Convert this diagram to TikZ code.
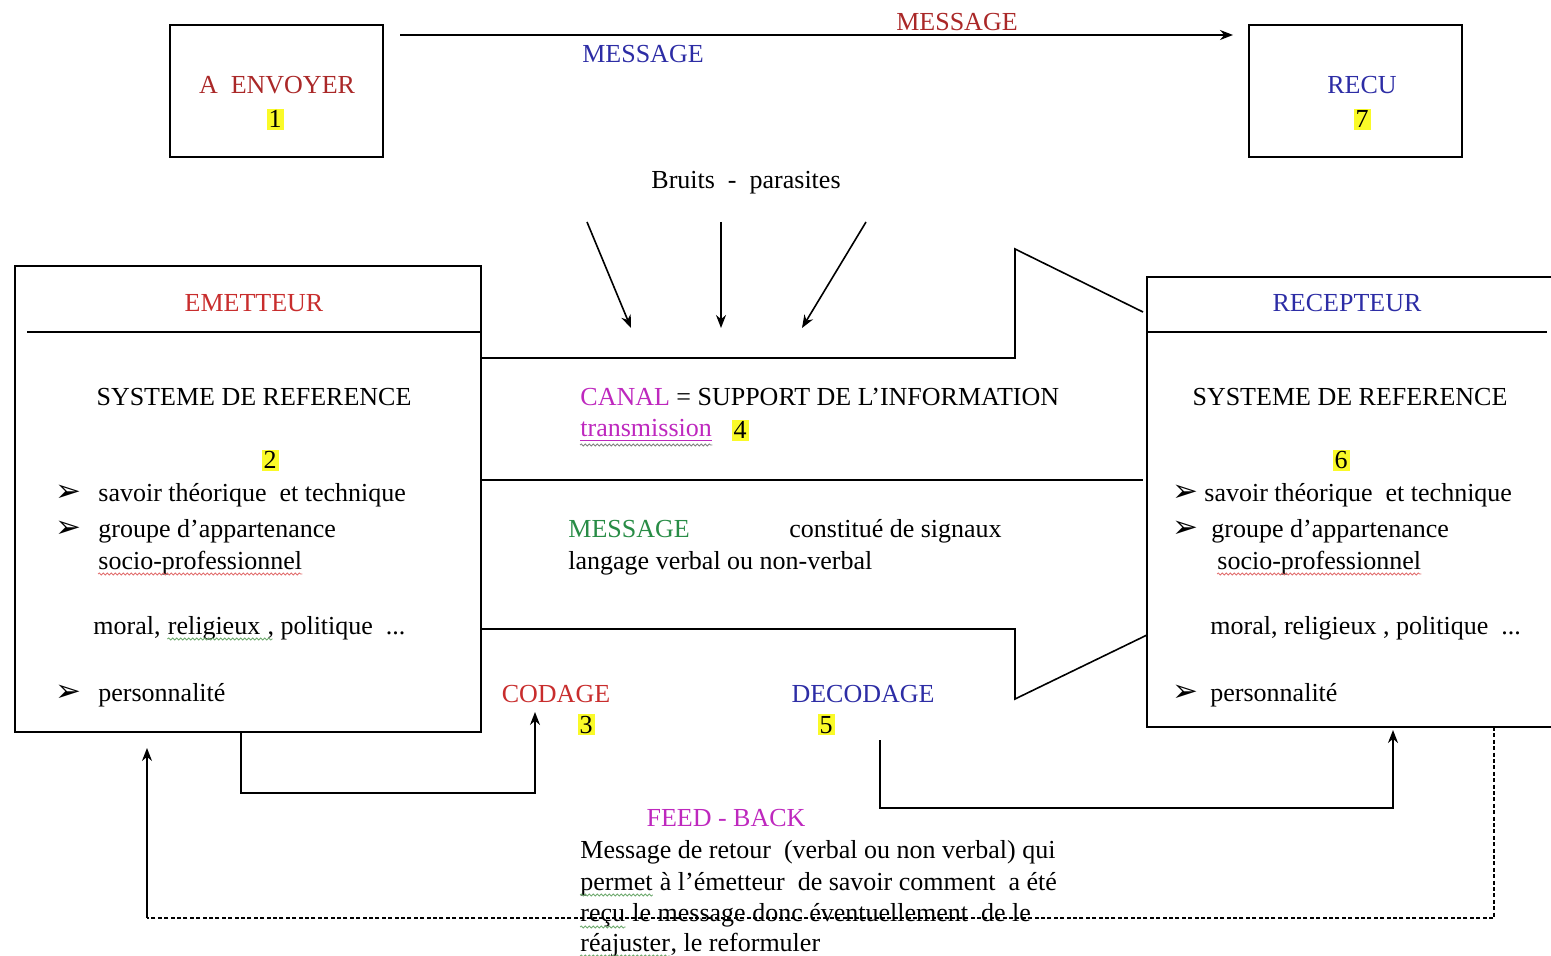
\documentclass[tikz,border=0pt]{standalone}
\usepackage{fontspec}
\setmainfont{Liberation Serif}
\newfontfamily\dingfont{DejaVu Sans}
\usetikzlibrary{arrows.meta,decorations.pathmorphing}
\definecolor{cred}{RGB}{200,45,45}
\definecolor{cdred}{RGB}{170,40,40}
\definecolor{cblue}{RGB}{45,45,165}
\definecolor{cmag}{RGB}{190,40,190}
\definecolor{cgreen}{RGB}{40,140,70}
\definecolor{hl}{RGB}{250,250,40}
\definecolor{wred}{RGB}{225,110,110}
\definecolor{wgreen}{RGB}{110,170,110}
\begin{document}
\begin{tikzpicture}[x=0.5pt,y=-0.5pt,
  font=\fontsize{13}{15}\selectfont,
  txt/.style={inner sep=0pt, anchor=base},
  lt/.style={inner sep=0pt, anchor=base west},
  num/.style={fill=hl, inner sep=1pt, anchor=base},
  frame/.style={draw, line width=1pt, inner sep=0pt},
  ln/.style={line width=0.8pt},
  arr/.style={line width=0.8pt, -{Stealth[length=6.5pt,width=5pt]}},
  fb/.style={line width=0.8pt, dash pattern=on 2pt off 1.2pt},
  bul/.style={inner sep=0pt, anchor=base, font=\dingfont\fontsize{15.5}{17}\selectfont},
  wavy/.style={decorate, decoration={snake, amplitude=0.5pt, segment length=2pt}, line width=0.4pt}]
\useasboundingbox (0,0) rectangle (1551,956);

% top boxes
\node[frame, minimum width=106.5pt, minimum height=66pt] (env) at (276.5,91) {};
\node[txt, text=cdred] (envt) at (277,94) {A\enspace ENVOYER};
\node[num] (n1) at (275,128) {1};
\node[frame, minimum width=106.5pt, minimum height=66pt] (recu) at (1355.5,91) {};
\node[txt, text=cblue] (recut) at (1362,94) {RECU};
\node[num] (n7) at (1362,128) {7};

\coordinate (ms) at (400,35);
\coordinate (me) at (1233,35);
\draw[arr] (ms) -- (me);
\node[txt, text=cdred] (msg1) at (957,31) {MESSAGE};
\node[txt, text=cblue] (msg2) at (643,63) {MESSAGE};

% noise
\node[txt] (bruits) at (746,189) {Bruits\enspace -\enspace parasites};
\coordinate (b1s) at (587,222); \coordinate (b1e) at (631,328);
\coordinate (b2s) at (721,222); \coordinate (b2e) at (721,328);
\coordinate (b3s) at (866,222); \coordinate (b3e) at (802,328);
\draw[arr] (b1s) -- (b1e);
\draw[arr] (b2s) -- (b2e);
\draw[arr] (b3s) -- (b3e);

% emetteur
\node[frame, minimum width=233pt, minimum height=233pt] (em) at (248,499) {};
\draw[line width=1pt] (27,332) -- (481,332);
\node[txt, text=cred] (emt) at (254,312) {EMETTEUR};
\node[txt] (emsys) at (254,406) {SYSTEME DE REFERENCE};
\node[num] (n2) at (270,469) {2};
\node[bul] (eb1) at (68,502) {➢};
\node[lt] (e1) at (98,502) {savoir théorique\enspace et technique};
\node[bul] (eb2) at (68,538) {➢};
\node[lt] (e2) at (98,538) {groupe d’appartenance};
\node[lt] (e3) at (98,569) {socio-professionnel};
\draw[wavy, wred] ([yshift=-2.5pt]e3.base west) -- ([yshift=-2.5pt]e3.base east);
\node[lt] (e4a) at (93,634) {moral,\kern0.25em};
\node[lt] (e4b) at (e4a.base east) {religieux};
\node[lt] (e4c) at (e4b.base east) {\ , politique\enspace ...};
\draw[wavy, wgreen] ([yshift=-2.5pt]e4b.base west) -- ([yshift=-2.5pt,xshift=6pt]e4b.base east);
\node[bul] (eb3) at (68,701) {➢};
\node[lt] (e5) at (98,701) {personnalité};

% recepteur
\coordinate (r1) at (1551,277); \coordinate (r2) at (1147,277);
\coordinate (r3) at (1147,727); \coordinate (r4) at (1551,727);
\draw[line width=1pt] (r1) -- (r2) -- (r3) -- (r4);
\draw[line width=1pt] (1147,332) -- (1547,332);
\node[txt, text=cblue] (rect) at (1347,312) {RECEPTEUR};
\node[txt] (resys) at (1350,406) {SYSTEME DE REFERENCE};
\node[num] (n6) at (1341,469) {6};
\node[bul] (rb1) at (1185,502) {➢};
\node[lt] (r5) at (1204,502) {savoir théorique\enspace et technique};
\node[bul] (rb2) at (1185,538) {➢};
\node[lt] (r6) at (1211,538) {groupe d’appartenance};
\node[lt] (r7) at (1217,569) {socio-professionnel};
\draw[wavy, wred] ([yshift=-2.5pt]r7.base west) -- ([yshift=-2.5pt]r7.base east);
\node[lt] (r8) at (1210,634) {moral, religieux , politique\enspace ...};
\node[bul] (rb3) at (1185,701) {➢};
\node[lt] (r9) at (1210,701) {personnalité};

% canal arrow shape
\draw[ln] (481,358) -- (1015,358) -- (1015,249) -- (1143,312);
\draw[ln] (481,629) -- (1015,629) -- (1015,699) -- (1147,635);
\draw[ln] (481,480) -- (1143,480);
\node[lt] (canal) at (580,406) {\textcolor{cmag}{CANAL} = SUPPORT DE L’INFORMATION};
\node[lt, text=cmag] (trans) at (580,437) {\underline{transmission}};
\draw[wavy, gray] ([yshift=-4pt]trans.base west) -- ([yshift=-4pt]trans.base east);
\node[num] (n4) at (740,439) {4};
\node[lt, text=cgreen] (msg3) at (568,538) {MESSAGE};
\node[lt] (sig) at (789,538) {constitué de signaux};
\node[lt] (lang) at (568,569) {langage verbal ou non-verbal};

% codage / decodage
\node[txt, text=cred] (cod) at (556,702) {CODAGE};
\node[num] (n3) at (586,733) {3};
\node[txt, text=cblue] (dec) at (863,702) {DECODAGE};
\node[num] (n5) at (826,733) {5};
\coordinate (c1) at (241,732); \coordinate (c2) at (241,793);
\coordinate (c3) at (535,793); \coordinate (c4) at (535,712);
\draw[arr] (c1) -- (c2) -- (c3) -- (c4);
\coordinate (d1) at (880,740); \coordinate (d2) at (880,808);
\coordinate (d3) at (1393,808); \coordinate (d4) at (1393,730);
\draw[arr] (d1) -- (d2) -- (d3) -- (d4);

% feedback
\coordinate (f1) at (1494,727); \coordinate (f2) at (1494,918);
\coordinate (f3) at (147,918); \coordinate (f4) at (147,748);
\draw[fb] (f1) -- (f2) -- (f3);
\draw[arr] (f3) -- (f4);
\node[txt, text=cmag] (fbt) at (726,826) {FEED - BACK};
\node[lt] (p1) at (580,858) {Message de retour\enspace(verbal ou non verbal) qui};
\node[lt] (p2a) at (580,890) {permet};
\node[lt] (p2b) at (p2a.base east) {\ à l’émetteur\enspace de savoir comment\enspace a été};
\draw[wavy, wgreen] ([yshift=-2.5pt]p2a.base west) -- ([yshift=-2.5pt]p2a.base east);
\node[lt] (p3a) at (580,921) {reçu};
\node[lt] (p3b) at (p3a.base east) {\ le message donc éventuellement\enspace de le};
\draw[wavy, wgreen] ([yshift=-3pt]p3a.base west) -- ([yshift=-3pt]p3a.base east);
\node[lt] (p4a) at (580,951) {réajuster};
\node[lt] (p4b) at (p4a.base east) {, le reformuler};
\draw[wavy, wgreen] ([yshift=-2.5pt]p4a.base west) -- ([yshift=-2.5pt]p4a.base east);
\end{tikzpicture}
\end{document}
